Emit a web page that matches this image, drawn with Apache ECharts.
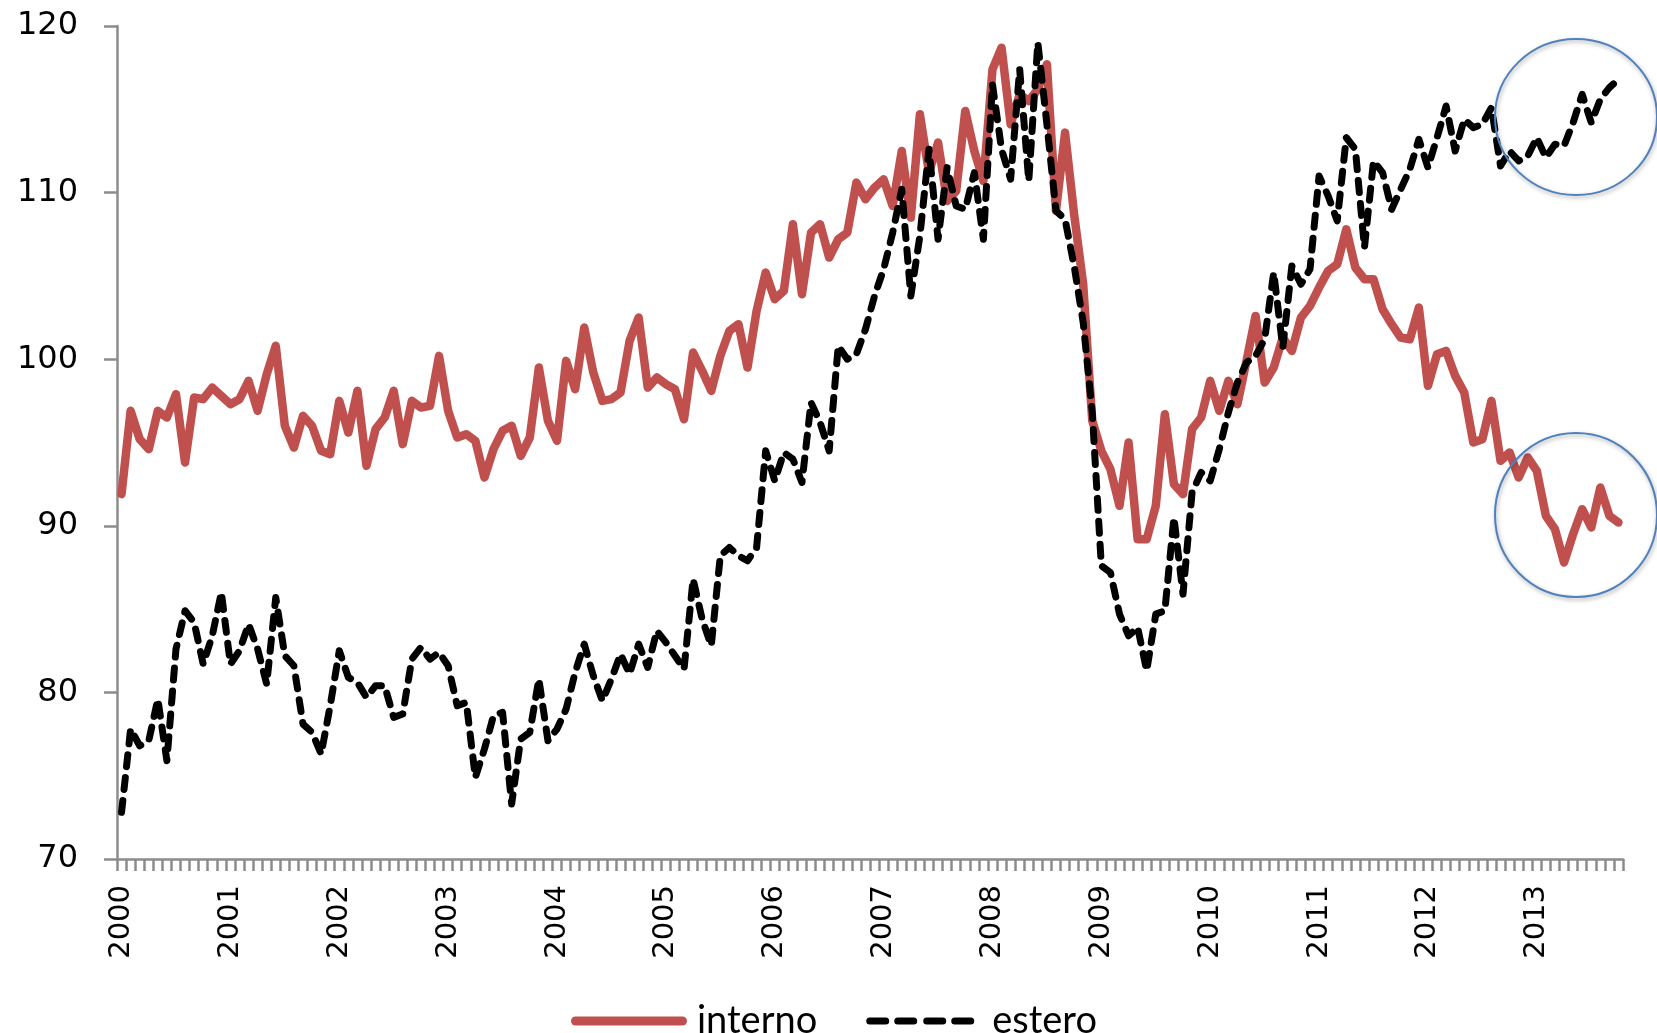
<!DOCTYPE html>
<html>
<head>
<meta charset="utf-8">
<script src="https://cdn.jsdelivr.net/npm/echarts@6/dist/echarts.min.js"></script>
<style>
html,body{margin:0;padding:0;background:#fff;}
#chart{width:1657px;height:1033px;}
</style>
</head>
<body>
<div id="chart"></div>
<script>
// Monthly categories Jan 2000 .. Oct 2013
const years = [2000,2001,2002,2003,2004,2005,2006,2007,2008,2009,2010,2011,2012,2013];
const months = ['01','02','03','04','05','06','07','08','09','10','11','12'];
const lastMonth = '2013-10';
const categories = [];
outer: for (const y of years) { for (const m of months) { const c = y + '-' + m; categories.push(c); if (c === lastMonth) break outer; } }

const seriesNames = ['interno', 'estero'];

const interno = [
91.9,96.9,95.2,94.6,96.9,96.5,97.9,93.8,97.7,97.6,98.3,97.8,
97.3,97.6,98.7,96.9,99.1,100.8,96.0,94.7,96.6,96.0,94.5,94.3,
97.5,95.6,98.1,93.6,95.8,96.5,98.1,94.9,97.5,97.1,97.2,100.2,
96.9,95.3,95.5,95.1,92.9,94.6,95.7,96.0,94.2,95.3,99.5,96.3,
95.1,99.9,98.2,101.9,99.2,97.5,97.6,98.0,101.1,102.5,98.3,98.9,
98.5,98.2,96.4,100.4,99.3,98.1,100.2,101.7,102.1,99.5,102.9,105.2,
103.6,104.1,108.1,103.9,107.6,108.1,106.1,107.2,107.6,110.6,109.6,110.3,
110.8,109.2,112.5,108.5,114.7,111.2,113.0,109.5,110.1,114.9,112.5,110.7,
117.4,118.7,114.1,115.9,115.5,116.2,117.7,108.9,113.6,108.7,104.5,96.3,
94.5,93.4,91.2,95.0,89.2,89.2,91.2,96.7,92.5,91.9,95.8,96.5,
98.7,96.9,98.7,97.3,99.9,102.6,98.6,99.5,101.3,100.5,102.5,103.2,
104.3,105.3,105.7,107.8,105.5,104.8,104.8,103.0,102.1,101.3,101.2,103.1,
98.4,100.3,100.5,99.0,98.0,95.0,95.2,97.5,93.9,94.4,92.9,94.1,
93.3,90.6,89.8,87.8,89.5,91.0,89.9,92.3,90.6,90.2
];

const estero = [
72.8,77.8,76.8,77.1,79.6,75.9,82.6,84.9,84.2,81.7,83.4,86.0,
81.7,82.5,84.1,82.6,80.5,85.7,82.2,81.6,78.1,77.6,76.3,79.2,
82.5,80.9,80.6,79.7,80.4,80.4,78.5,78.7,82.0,82.7,82.0,82.4,
81.6,79.2,79.4,74.9,76.6,78.6,78.8,73.3,77.2,77.6,80.8,77.1,
77.8,79.0,81.2,82.9,81.0,79.5,80.8,82.3,81.1,82.9,81.5,83.7,
83.0,82.2,81.4,86.8,84.4,82.8,88.2,88.7,88.2,87.9,88.7,94.5,
92.7,94.4,94.0,92.6,97.4,96.2,94.5,100.8,100.0,100.3,101.8,103.8,
105.4,107.6,110.2,103.8,107.4,112.6,107.2,111.5,109.2,109.0,111.2,107.2,
116.5,112.6,110.8,117.4,110.7,119.0,114.1,108.9,108.4,105.6,102.2,96.8,
87.6,87.2,84.7,83.4,83.9,81.3,84.7,84.9,90.5,85.9,92.0,93.2,
92.7,94.6,96.8,98.6,99.8,100.2,101.2,105.2,100.7,105.6,104.5,105.4,
111.0,109.8,108.3,113.3,112.6,106.7,111.9,111.2,109.0,110.2,111.4,113.2,
111.5,113.3,115.2,112.5,114.4,113.9,114.1,115.1,111.6,112.5,111.9,112.2,
113.3,112.1,112.9,112.8,114.2,115.9,114.2,115.6,116.3,116.8
];

const yTicks = [70, 80, 90, 100, 110, 120];

// legend icons (solid pill / four dash pills)
function pill(s, e, y0, y1) {
  const r = (y1 - y0) / 2;
  return 'M' + (s + r) + ',' + y0 + ' L' + (e - r) + ',' + y0 +
    ' A' + r + ',' + r + ' 0 0 1 ' + (e - r) + ',' + y1 +
    ' L' + (s + r) + ',' + y1 +
    ' A' + r + ',' + r + ' 0 0 1 ' + (s + r) + ',' + y0 + ' Z';
}
const iconSolid = 'path://' + pill(0, 116, 0, 9);
const iconDash = 'path://M0,0 M116,9 ' + pill(0, 23, 1, 8) + ' ' + pill(28, 51, 1, 8) + ' ' + pill(57, 80, 1, 8) + ' ' + pill(85, 108, 1, 8);

const chart = echarts.init(document.getElementById('chart'), null, {renderer: 'canvas'});
const axisGray = '#8c8c8c';
chart.setOption({
  animation: false,
  backgroundColor: '#ffffff',
  grid: { left: 117, right: 34, top: 26, bottom: 174, containLabel: false },
  legend: {
    data: [
      { name: seriesNames[0], icon: iconSolid },
      { name: seriesNames[1], icon: iconDash }
    ],
    left: 566, top: 997,
    itemWidth: 116, itemHeight: 9, itemGap: 49,
    textStyle: { fontFamily: 'Lato', fontSize: 38, color: '#000', padding: [0, 0, 0, 5] }
  },
  xAxis: {
    type: 'category',
    data: categories,
    boundaryGap: true,
    axisLine: { show: true, lineStyle: { color: axisGray, width: 2.5 } },
    axisTick: { show: true, interval: 0, length: 12, lineStyle: { color: axisGray, width: 2.5 } },
    axisLabel: {
      interval: 11, rotate: 90, margin: 26,
      fontFamily: 'DejaVu Sans', fontSize: 29, color: '#000',
      formatter: v => v.slice(0, 4)
    },
    splitLine: { show: false }
  },
  yAxis: {
    type: 'value',
    min: yTicks[0], max: yTicks[yTicks.length - 1], interval: 10,
    axisLine: { show: true, lineStyle: { color: axisGray, width: 2.5 } },
    axisTick: { show: true, length: 13, lineStyle: { color: axisGray, width: 2.5 } },
    axisLabel: { margin: 39, fontFamily: 'DejaVu Sans', fontSize: 32, color: '#000' },
    splitLine: { show: false }
  },
  series: [
    {
      name: seriesNames[0], type: 'line', data: interno,
      symbol: 'none', z: 2,
      lineStyle: { color: '#C0504D', width: 8.5, join: 'round', cap: 'round' },
      itemStyle: { color: '#C0504D' }
    },
    {
      name: seriesNames[1], type: 'line', data: estero,
      symbol: 'none', z: 3,
      lineStyle: { color: '#000000', width: 7, type: [12, 11], cap: 'round', join: 'round' },
      itemStyle: { color: '#000000' }
    }
  ],
  graphic: [
    { type: 'ellipse', z: 100, shape: { cx: 1576, cy: 117, rx: 81, ry: 78 },
      style: { fill: 'none', stroke: '#4F81BD', lineWidth: 2, shadowBlur: 4, shadowColor: 'rgba(0,0,0,0.35)', shadowOffsetX: 1, shadowOffsetY: 2 } },
    { type: 'ellipse', z: 100, shape: { cx: 1576, cy: 515, rx: 81, ry: 82 },
      style: { fill: 'none', stroke: '#4F81BD', lineWidth: 2, shadowBlur: 4, shadowColor: 'rgba(0,0,0,0.35)', shadowOffsetX: 1, shadowOffsetY: 2 } }
  ]
});
</script>
</body>
</html>
